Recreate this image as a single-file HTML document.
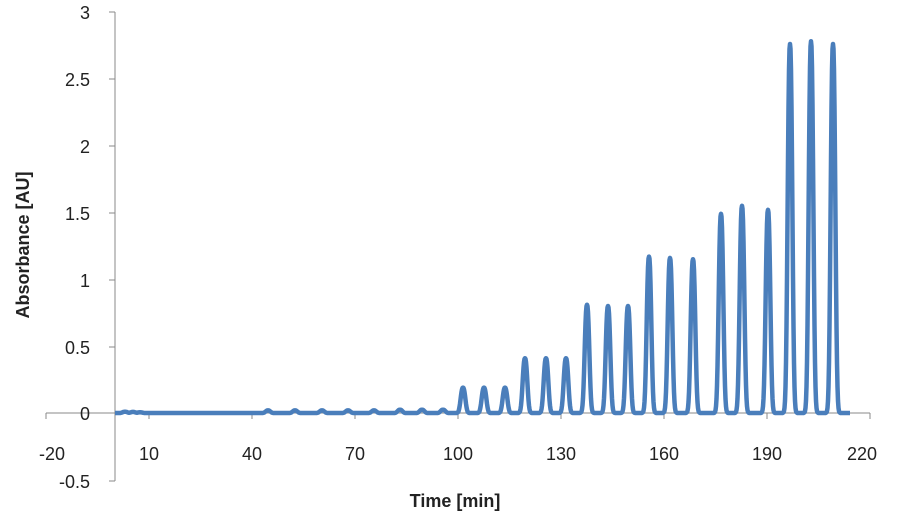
<!DOCTYPE html>
<html><head><meta charset="utf-8"><style>
html,body{margin:0;padding:0;background:#fff;}
svg{display:block;font-family:"Liberation Sans",sans-serif;}
</style></head><body>
<svg id="c" width="900" height="530" viewBox="0 0 900 530">
<line x1="115" y1="12" x2="115" y2="481" stroke="#888" stroke-width="1"/>
<line x1="46" y1="413" x2="870" y2="413" stroke="#888" stroke-width="1"/>
<g stroke="#888" stroke-width="1">
<line x1="109" y1="12" x2="115" y2="12"/><line x1="109" y1="79" x2="115" y2="79"/>
<line x1="109" y1="146" x2="115" y2="146"/><line x1="109" y1="213" x2="115" y2="213"/>
<line x1="109" y1="280" x2="115" y2="280"/><line x1="109" y1="347" x2="115" y2="347"/>
<line x1="109" y1="413" x2="115" y2="413"/><line x1="109" y1="481" x2="115" y2="481"/>
<line x1="46" y1="413" x2="46" y2="419"/><line x1="149" y1="413" x2="149" y2="419"/>
<line x1="252" y1="413" x2="252" y2="419"/><line x1="355" y1="413" x2="355" y2="419"/>
<line x1="458" y1="413" x2="458" y2="419"/><line x1="561" y1="413" x2="561" y2="419"/>
<line x1="664" y1="413" x2="664" y2="419"/><line x1="767" y1="413" x2="767" y2="419"/>
<line x1="870" y1="413" x2="870" y2="419"/>
</g>
<g font-size="18" fill="#222" text-anchor="end">
<text x="90" y="19">3</text><text x="90" y="86">2.5</text><text x="90" y="153">2</text>
<text x="90" y="220">1.5</text><text x="90" y="287">1</text><text x="90" y="354">0.5</text>
<text x="90" y="420">0</text><text x="90" y="488">-0.5</text>
</g>
<g font-size="18" fill="#222" text-anchor="middle">
<text x="52" y="460">-20</text><text x="149" y="460">10</text><text x="252" y="460">40</text>
<text x="355" y="460">70</text><text x="458" y="460">100</text><text x="561" y="460">130</text>
<text x="664" y="460">160</text><text x="767" y="460">190</text><text x="862" y="460">220</text>
</g>
<text x="455" y="507" font-size="18" font-weight="bold" text-anchor="middle" fill="#222">Time [min]</text>
<text transform="translate(29,245) rotate(-90)" font-size="18" font-weight="bold" text-anchor="middle" fill="#222">Absorbance [AU]</text>
<path id="p" fill="none" stroke="#4a7ebb" stroke-width="4.5" stroke-linejoin="round"/>
</svg>
<script>
var peaks=[[125,0.01],[133,0.008],[140,0.005],[268,0.02],[295,0.02],[322,0.02],[348,0.02],[374,0.02],[400,0.025],[422,0.025],[443,0.025],
[463,0.19],[484,0.19],[505,0.19],[525,0.41],[546,0.41],[566,0.41],[587,0.81],[608,0.80],[628,0.80],[649,1.17],[670,1.16],[693,1.15],
[721,1.49],[742,1.55],[768,1.52],[790,2.76],[811,2.78],[833,2.76]];
var d="M115 413";
for(var x=115;x<=850;x+=0.5){var y=0;for(var i=0;i<peaks.length;i++){var p=peaks[i];var dx=x-p[0];var w=3.0;var v=p[1]*Math.exp(-Math.pow(Math.abs(dx)/w,2.4));if(v>y)y=v;}
d+=" L"+x+" "+(413-y*133.7).toFixed(1);}
document.getElementById("p").setAttribute("d",d);
</script>
</body></html>
